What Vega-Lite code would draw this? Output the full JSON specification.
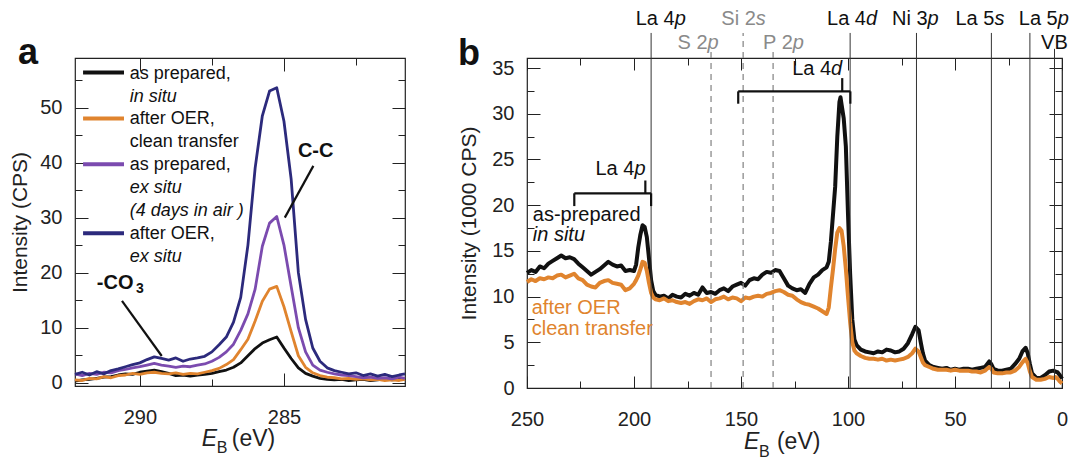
{
  "$schema": "https://vega.github.io/schema/vega-lite/v6.json",
  "padding": {"left": 9, "top": 8, "right": 0, "bottom": 0},
  "spacing": 50,
  "config": {
    "font": "Liberation Sans",
    "view": {"stroke": "#222", "strokeWidth": 1.2},
    "axis": {"domain": false, "grid": false, "labelFontSize": 20, "labelColor": "#222", "tickColor": "#222", "tickWidth": 1, "titleFontSize": 21, "titleFontWeight": "normal", "titleColor": "#222", "labelFlush": false, "labelOverlap": false, "labelFont": "Liberation Sans", "titleFont": "Liberation Sans"},
    "text": {"font": "Liberation Sans", "color": "#111"}
  },
  "datasets": {
    "curvesA": [
      {"E":292.25,"I":0.3,"s":"insitu"},{"E":292.0,"I":0.5,"s":"insitu"},{"E":291.75,"I":0.6,"s":"insitu"},{"E":291.5,"I":0.8,"s":"insitu"},{"E":291.25,"I":1.0,"s":"insitu"},{"E":291.0,"I":1.1,"s":"insitu"},{"E":290.75,"I":1.4,"s":"insitu"},{"E":290.5,"I":1.6,"s":"insitu"},{"E":290.25,"I":1.5,"s":"insitu"},{"E":290.0,"I":1.9,"s":"insitu"},{"E":289.75,"I":2.1,"s":"insitu"},{"E":289.5,"I":2.3,"s":"insitu"},{"E":289.25,"I":2.0,"s":"insitu"},{"E":289.0,"I":1.7,"s":"insitu"},{"E":288.75,"I":1.3,"s":"insitu"},{"E":288.5,"I":1.4,"s":"insitu"},{"E":288.25,"I":1.2,"s":"insitu"},{"E":288.0,"I":1.4,"s":"insitu"},{"E":287.75,"I":1.5,"s":"insitu"},{"E":287.5,"I":1.7,"s":"insitu"},{"E":287.25,"I":2.0,"s":"insitu"},{"E":287.0,"I":2.3,"s":"insitu"},{"E":286.75,"I":2.8,"s":"insitu"},{"E":286.5,"I":3.6,"s":"insitu"},{"E":286.25,"I":4.9,"s":"insitu"},{"E":286.0,"I":6.2,"s":"insitu"},{"E":285.75,"I":7.2,"s":"insitu"},{"E":285.5,"I":7.8,"s":"insitu"},{"E":285.25,"I":8.3,"s":"insitu"},{"E":285.0,"I":6.3,"s":"insitu"},{"E":284.75,"I":4.4,"s":"insitu"},{"E":284.5,"I":2.7,"s":"insitu"},{"E":284.25,"I":1.7,"s":"insitu"},{"E":284.0,"I":1.2,"s":"insitu"},{"E":283.75,"I":0.8,"s":"insitu"},{"E":283.5,"I":0.6,"s":"insitu"},{"E":283.25,"I":0.5,"s":"insitu"},{"E":283.0,"I":0.6,"s":"insitu"},{"E":282.75,"I":0.4,"s":"insitu"},{"E":282.5,"I":0.5,"s":"insitu"},{"E":282.25,"I":0.6,"s":"insitu"},{"E":282.0,"I":0.4,"s":"insitu"},{"E":281.75,"I":0.5,"s":"insitu"},{"E":281.5,"I":0.7,"s":"insitu"},{"E":281.25,"I":0.5,"s":"insitu"},{"E":281.0,"I":0.6,"s":"insitu"},{"E":280.8,"I":0.7,"s":"insitu"},
      {"E":292.25,"I":0.5,"s":"oerclean"},{"E":292.0,"I":0.4,"s":"oerclean"},{"E":291.75,"I":0.8,"s":"oerclean"},{"E":291.5,"I":0.7,"s":"oerclean"},{"E":291.25,"I":1.1,"s":"oerclean"},{"E":291.0,"I":0.9,"s":"oerclean"},{"E":290.75,"I":1.3,"s":"oerclean"},{"E":290.5,"I":1.4,"s":"oerclean"},{"E":290.25,"I":1.7,"s":"oerclean"},{"E":290.0,"I":1.5,"s":"oerclean"},{"E":289.75,"I":1.8,"s":"oerclean"},{"E":289.5,"I":1.9,"s":"oerclean"},{"E":289.25,"I":1.7,"s":"oerclean"},{"E":289.0,"I":1.6,"s":"oerclean"},{"E":288.75,"I":1.8,"s":"oerclean"},{"E":288.5,"I":1.5,"s":"oerclean"},{"E":288.25,"I":1.7,"s":"oerclean"},{"E":288.0,"I":1.6,"s":"oerclean"},{"E":287.75,"I":1.9,"s":"oerclean"},{"E":287.5,"I":2.2,"s":"oerclean"},{"E":287.25,"I":2.6,"s":"oerclean"},{"E":287.0,"I":3.3,"s":"oerclean"},{"E":286.75,"I":4.2,"s":"oerclean"},{"E":286.5,"I":6.0,"s":"oerclean"},{"E":286.25,"I":7.9,"s":"oerclean"},{"E":286.0,"I":11.2,"s":"oerclean"},{"E":285.75,"I":14.8,"s":"oerclean"},{"E":285.5,"I":17.0,"s":"oerclean"},{"E":285.25,"I":17.5,"s":"oerclean"},{"E":285.0,"I":13.8,"s":"oerclean"},{"E":284.75,"I":9.3,"s":"oerclean"},{"E":284.5,"I":4.9,"s":"oerclean"},{"E":284.25,"I":2.8,"s":"oerclean"},{"E":284.0,"I":1.8,"s":"oerclean"},{"E":283.75,"I":1.3,"s":"oerclean"},{"E":283.5,"I":1.0,"s":"oerclean"},{"E":283.25,"I":0.9,"s":"oerclean"},{"E":283.0,"I":0.7,"s":"oerclean"},{"E":282.75,"I":0.8,"s":"oerclean"},{"E":282.5,"I":0.6,"s":"oerclean"},{"E":282.25,"I":0.7,"s":"oerclean"},{"E":282.0,"I":0.5,"s":"oerclean"},{"E":281.75,"I":0.6,"s":"oerclean"},{"E":281.5,"I":0.4,"s":"oerclean"},{"E":281.25,"I":0.5,"s":"oerclean"},{"E":281.0,"I":0.4,"s":"oerclean"},{"E":280.8,"I":0.6,"s":"oerclean"},
      {"E":292.25,"I":1.6,"s":"exsitu"},{"E":292.0,"I":1.3,"s":"exsitu"},{"E":291.75,"I":1.7,"s":"exsitu"},{"E":291.5,"I":1.5,"s":"exsitu"},{"E":291.25,"I":1.9,"s":"exsitu"},{"E":291.0,"I":1.8,"s":"exsitu"},{"E":290.75,"I":2.2,"s":"exsitu"},{"E":290.5,"I":2.4,"s":"exsitu"},{"E":290.25,"I":2.7,"s":"exsitu"},{"E":290.0,"I":2.9,"s":"exsitu"},{"E":289.75,"I":3.2,"s":"exsitu"},{"E":289.5,"I":3.5,"s":"exsitu"},{"E":289.25,"I":3.2,"s":"exsitu"},{"E":289.0,"I":3.0,"s":"exsitu"},{"E":288.75,"I":2.8,"s":"exsitu"},{"E":288.5,"I":3.0,"s":"exsitu"},{"E":288.25,"I":2.9,"s":"exsitu"},{"E":288.0,"I":3.2,"s":"exsitu"},{"E":287.75,"I":3.4,"s":"exsitu"},{"E":287.5,"I":3.9,"s":"exsitu"},{"E":287.25,"I":4.6,"s":"exsitu"},{"E":287.0,"I":5.6,"s":"exsitu"},{"E":286.75,"I":7.0,"s":"exsitu"},{"E":286.5,"I":9.5,"s":"exsitu"},{"E":286.25,"I":12.5,"s":"exsitu"},{"E":286.0,"I":17.0,"s":"exsitu"},{"E":285.75,"I":24.8,"s":"exsitu"},{"E":285.5,"I":29.0,"s":"exsitu"},{"E":285.25,"I":30.2,"s":"exsitu"},{"E":285.0,"I":25.0,"s":"exsitu"},{"E":284.75,"I":17.5,"s":"exsitu"},{"E":284.5,"I":10.0,"s":"exsitu"},{"E":284.25,"I":5.6,"s":"exsitu"},{"E":284.0,"I":3.2,"s":"exsitu"},{"E":283.75,"I":2.3,"s":"exsitu"},{"E":283.5,"I":1.9,"s":"exsitu"},{"E":283.25,"I":1.6,"s":"exsitu"},{"E":283.0,"I":1.4,"s":"exsitu"},{"E":282.75,"I":1.3,"s":"exsitu"},{"E":282.5,"I":1.1,"s":"exsitu"},{"E":282.25,"I":0.9,"s":"exsitu"},{"E":282.0,"I":1.0,"s":"exsitu"},{"E":281.75,"I":0.8,"s":"exsitu"},{"E":281.5,"I":0.9,"s":"exsitu"},{"E":281.25,"I":0.7,"s":"exsitu"},{"E":281.0,"I":1.0,"s":"exsitu"},{"E":280.8,"I":0.8,"s":"exsitu"},
      {"E":292.25,"I":1.5,"s":"oerexsitu"},{"E":292.0,"I":1.9,"s":"oerexsitu"},{"E":291.75,"I":1.4,"s":"oerexsitu"},{"E":291.5,"I":2.0,"s":"oerexsitu"},{"E":291.25,"I":1.6,"s":"oerexsitu"},{"E":291.0,"I":2.2,"s":"oerexsitu"},{"E":290.75,"I":2.5,"s":"oerexsitu"},{"E":290.5,"I":2.9,"s":"oerexsitu"},{"E":290.25,"I":3.3,"s":"oerexsitu"},{"E":290.0,"I":3.6,"s":"oerexsitu"},{"E":289.75,"I":4.2,"s":"oerexsitu"},{"E":289.5,"I":4.7,"s":"oerexsitu"},{"E":289.25,"I":4.4,"s":"oerexsitu"},{"E":289.0,"I":4.1,"s":"oerexsitu"},{"E":288.75,"I":4.5,"s":"oerexsitu"},{"E":288.5,"I":3.9,"s":"oerexsitu"},{"E":288.25,"I":4.3,"s":"oerexsitu"},{"E":288.0,"I":4.5,"s":"oerexsitu"},{"E":287.75,"I":4.8,"s":"oerexsitu"},{"E":287.5,"I":5.6,"s":"oerexsitu"},{"E":287.25,"I":6.9,"s":"oerexsitu"},{"E":287.0,"I":8.3,"s":"oerexsitu"},{"E":286.75,"I":11.0,"s":"oerexsitu"},{"E":286.5,"I":15.5,"s":"oerexsitu"},{"E":286.25,"I":25.0,"s":"oerexsitu"},{"E":286.0,"I":39.0,"s":"oerexsitu"},{"E":285.75,"I":48.5,"s":"oerexsitu"},{"E":285.5,"I":53.0,"s":"oerexsitu"},{"E":285.25,"I":53.6,"s":"oerexsitu"},{"E":285.0,"I":47.5,"s":"oerexsitu"},{"E":284.75,"I":37.0,"s":"oerexsitu"},{"E":284.5,"I":20.0,"s":"oerexsitu"},{"E":284.25,"I":11.5,"s":"oerexsitu"},{"E":284.0,"I":6.3,"s":"oerexsitu"},{"E":283.75,"I":3.9,"s":"oerexsitu"},{"E":283.5,"I":2.7,"s":"oerexsitu"},{"E":283.25,"I":2.2,"s":"oerexsitu"},{"E":283.0,"I":1.9,"s":"oerexsitu"},{"E":282.75,"I":1.6,"s":"oerexsitu"},{"E":282.5,"I":1.8,"s":"oerexsitu"},{"E":282.25,"I":1.3,"s":"oerexsitu"},{"E":282.0,"I":1.6,"s":"oerexsitu"},{"E":281.75,"I":1.2,"s":"oerexsitu"},{"E":281.5,"I":1.5,"s":"oerexsitu"},{"E":281.25,"I":1.1,"s":"oerexsitu"},{"E":281.0,"I":1.4,"s":"oerexsitu"},{"E":280.8,"I":1.6,"s":"oerexsitu"}
    ],
    "legendA": [
      {"s":"insitu","x1":291.97,"x2":290.55,"y":56.36},
      {"s":"oerclean","x1":291.97,"x2":290.55,"y":48.0},
      {"s":"exsitu","x1":291.97,"x2":290.55,"y":39.7},
      {"s":"oerexsitu","x1":291.97,"x2":290.55,"y":27.16}
    ],
    "legendTextA": [
      {"t":"as prepared,","E":290.35,"I":56.07},
      {"t":"after OER,","E":290.35,"I":47.9},
      {"t":"clean transfer","E":290.35,"I":43.76},
      {"t":"as prepared,","E":290.35,"I":39.53},
      {"t":"after OER,","E":290.35,"I":27.1}
    ],
    "legendItalicA": [
      {"t":"in situ","E":290.35,"I":51.95},
      {"t":"ex situ","E":290.35,"I":35.4},
      {"t":"(4 days in air )","E":290.35,"I":31.2},
      {"t":"ex situ","E":290.35,"I":22.9}
    ],
    "leadersA": [
      {"x1":283.98,"y1":39.4,"x2":284.97,"y2":30.0},
      {"x1":290.62,"y1":14.85,"x2":289.24,"y2":4.85}
    ],
    "notesA": [
      {"t":"C-C","E":283.9,"I":42.1,"role":"peak"},
      {"t":"-CO","E":290.22,"I":18.2,"role":"co"},
      {"t":"3","E":290.13,"I":17.0,"role":"sub"},
      {"t":"a","E":293.88,"I":57.95,"role":"panel"},
      {"t":"E","E":287.85,"I":-11.5,"role":"xt_e"},
      {"t":"B","E":287.33,"I":-12.8,"role":"xt_sub"},
      {"t":"(eV)","E":286.81,"I":-11.5,"role":"xt_unit"}
    ],
    "notesB": [
      {"t":"as-prepared","E":247.3,"I":18.3,"role":"black"},
      {"t":"in situ","E":247.3,"I":16.05,"role":"black_it"},
      {"t":"after OER","E":247.8,"I":8.1,"role":"orange"},
      {"t":"clean transfer","E":247.8,"I":5.75,"role":"orange"},
      {"t":"b","E":277.1,"I":35.3,"role":"panel"},
      {"t":"E","E":148.6,"I":-6.7,"role":"xt_e"},
      {"t":"B","E":141.6,"I":-7.5,"role":"xt_sub"},
      {"t":"(eV)","E":133.2,"I":-6.7,"role":"xt_unit"}
    ],
    "curvesB": [
      {"E":250,"I":12.6,"s":"insitu"},{"E":248,"I":12.9,"s":"insitu"},{"E":246,"I":12.7,"s":"insitu"},{"E":244,"I":13.3,"s":"insitu"},{"E":242,"I":13.1,"s":"insitu"},{"E":240,"I":13.6,"s":"insitu"},{"E":238,"I":13.9,"s":"insitu"},{"E":236,"I":14.2,"s":"insitu"},{"E":234,"I":14.5,"s":"insitu"},{"E":232,"I":14.2,"s":"insitu"},{"E":230,"I":14.3,"s":"insitu"},{"E":228,"I":14.1,"s":"insitu"},{"E":226,"I":13.6,"s":"insitu"},{"E":224,"I":13.2,"s":"insitu"},{"E":222,"I":12.8,"s":"insitu"},{"E":220,"I":12.4,"s":"insitu"},{"E":218,"I":12.7,"s":"insitu"},{"E":216,"I":13.0,"s":"insitu"},{"E":214,"I":13.4,"s":"insitu"},{"E":212,"I":13.8,"s":"insitu"},{"E":210,"I":13.5,"s":"insitu"},{"E":208,"I":13.3,"s":"insitu"},{"E":206,"I":13.4,"s":"insitu"},{"E":204,"I":12.8,"s":"insitu"},{"E":202,"I":12.9,"s":"insitu"},{"E":200,"I":12.8,"s":"insitu"},{"E":199,"I":13.5,"s":"insitu"},{"E":198,"I":15.4,"s":"insitu"},{"E":197,"I":16.8,"s":"insitu"},{"E":196,"I":17.8,"s":"insitu"},{"E":195,"I":17.6,"s":"insitu"},{"E":194,"I":16.5,"s":"insitu"},{"E":193,"I":14.2,"s":"insitu"},{"E":192,"I":11.8,"s":"insitu"},{"E":191,"I":10.6,"s":"insitu"},{"E":190,"I":10.2,"s":"insitu"},{"E":188,"I":10.0,"s":"insitu"},{"E":186,"I":10.1,"s":"insitu"},{"E":184,"I":9.8,"s":"insitu"},{"E":182,"I":10.2,"s":"insitu"},{"E":180,"I":10.0,"s":"insitu"},{"E":178,"I":9.9,"s":"insitu"},{"E":176,"I":10.3,"s":"insitu"},{"E":174,"I":10.1,"s":"insitu"},{"E":172,"I":10.4,"s":"insitu"},{"E":170,"I":10.2,"s":"insitu"},{"E":168,"I":11.0,"s":"insitu"},{"E":166,"I":10.4,"s":"insitu"},{"E":164,"I":10.5,"s":"insitu"},{"E":162,"I":10.3,"s":"insitu"},{"E":160,"I":10.7,"s":"insitu"},{"E":158,"I":10.9,"s":"insitu"},{"E":156,"I":10.6,"s":"insitu"},{"E":154,"I":11.1,"s":"insitu"},{"E":152,"I":11.3,"s":"insitu"},{"E":150,"I":11.5,"s":"insitu"},{"E":148,"I":11.2,"s":"insitu"},{"E":146,"I":11.8,"s":"insitu"},{"E":144,"I":12.0,"s":"insitu"},{"E":142,"I":11.9,"s":"insitu"},{"E":140,"I":12.4,"s":"insitu"},{"E":138,"I":12.7,"s":"insitu"},{"E":136,"I":12.6,"s":"insitu"},{"E":134,"I":12.9,"s":"insitu"},{"E":132,"I":12.8,"s":"insitu"},{"E":130,"I":12.0,"s":"insitu"},{"E":128,"I":11.2,"s":"insitu"},{"E":126,"I":10.9,"s":"insitu"},{"E":124,"I":10.7,"s":"insitu"},{"E":122,"I":10.8,"s":"insitu"},{"E":120,"I":10.4,"s":"insitu"},{"E":118,"I":11.4,"s":"insitu"},{"E":116,"I":12.1,"s":"insitu"},{"E":114,"I":12.4,"s":"insitu"},{"E":112,"I":12.9,"s":"insitu"},{"E":110,"I":13.2,"s":"insitu"},{"E":109,"I":13.8,"s":"insitu"},{"E":108,"I":16.0,"s":"insitu"},{"E":107,"I":19.0,"s":"insitu"},{"E":106,"I":22.0,"s":"insitu"},{"E":105,"I":27.5,"s":"insitu"},{"E":104,"I":31.3,"s":"insitu"},{"E":103.5,"I":31.8,"s":"insitu"},{"E":103,"I":31.0,"s":"insitu"},{"E":102,"I":29.5,"s":"insitu"},{"E":101,"I":26.4,"s":"insitu"},{"E":100,"I":19.0,"s":"insitu"},{"E":99,"I":12.5,"s":"insitu"},{"E":98,"I":7.5,"s":"insitu"},{"E":97,"I":5.3,"s":"insitu"},{"E":96,"I":4.7,"s":"insitu"},{"E":94,"I":4.2,"s":"insitu"},{"E":92,"I":4.0,"s":"insitu"},{"E":90,"I":3.9,"s":"insitu"},{"E":88,"I":3.8,"s":"insitu"},{"E":86,"I":4.0,"s":"insitu"},{"E":84,"I":3.9,"s":"insitu"},{"E":82,"I":4.2,"s":"insitu"},{"E":80,"I":4.1,"s":"insitu"},{"E":78,"I":3.9,"s":"insitu"},{"E":76,"I":4.0,"s":"insitu"},{"E":74,"I":4.3,"s":"insitu"},{"E":72,"I":4.9,"s":"insitu"},{"E":70,"I":5.9,"s":"insitu"},{"E":68.5,"I":6.7,"s":"insitu"},{"E":67,"I":6.3,"s":"insitu"},{"E":66,"I":5.0,"s":"insitu"},{"E":65,"I":3.8,"s":"insitu"},{"E":64,"I":3.0,"s":"insitu"},{"E":62,"I":2.5,"s":"insitu"},{"E":60,"I":2.3,"s":"insitu"},{"E":58,"I":2.2,"s":"insitu"},{"E":56,"I":2.1,"s":"insitu"},{"E":54,"I":2.2,"s":"insitu"},{"E":52,"I":2.0,"s":"insitu"},{"E":50,"I":2.1,"s":"insitu"},{"E":48,"I":2.0,"s":"insitu"},{"E":46,"I":2.1,"s":"insitu"},{"E":44,"I":2.1,"s":"insitu"},{"E":42,"I":2.0,"s":"insitu"},{"E":40,"I":2.1,"s":"insitu"},{"E":38,"I":2.2,"s":"insitu"},{"E":36,"I":2.3,"s":"insitu"},{"E":35,"I":2.6,"s":"insitu"},{"E":34,"I":2.9,"s":"insitu"},{"E":33,"I":2.6,"s":"insitu"},{"E":32,"I":2.1,"s":"insitu"},{"E":30,"I":1.9,"s":"insitu"},{"E":28,"I":1.9,"s":"insitu"},{"E":26,"I":2.0,"s":"insitu"},{"E":24,"I":2.1,"s":"insitu"},{"E":22,"I":2.6,"s":"insitu"},{"E":20,"I":3.2,"s":"insitu"},{"E":18.5,"I":4.0,"s":"insitu"},{"E":17,"I":4.4,"s":"insitu"},{"E":16,"I":3.8,"s":"insitu"},{"E":15,"I":2.6,"s":"insitu"},{"E":14,"I":1.6,"s":"insitu"},{"E":12,"I":1.1,"s":"insitu"},{"E":10,"I":1.1,"s":"insitu"},{"E":8,"I":1.4,"s":"insitu"},{"E":6,"I":1.8,"s":"insitu"},{"E":4,"I":1.9,"s":"insitu"},{"E":3,"I":1.8,"s":"insitu"},{"E":2,"I":1.7,"s":"insitu"},{"E":1,"I":1.4,"s":"insitu"},{"E":0,"I":1.0,"s":"insitu"},
      {"E":250,"I":11.6,"s":"oerclean"},{"E":248,"I":11.9,"s":"oerclean"},{"E":246,"I":11.7,"s":"oerclean"},{"E":244,"I":12.0,"s":"oerclean"},{"E":242,"I":11.9,"s":"oerclean"},{"E":240,"I":12.1,"s":"oerclean"},{"E":238,"I":12.0,"s":"oerclean"},{"E":236,"I":12.3,"s":"oerclean"},{"E":234,"I":12.4,"s":"oerclean"},{"E":232,"I":12.1,"s":"oerclean"},{"E":230,"I":12.3,"s":"oerclean"},{"E":228,"I":12.5,"s":"oerclean"},{"E":226,"I":12.0,"s":"oerclean"},{"E":224,"I":11.8,"s":"oerclean"},{"E":222,"I":11.3,"s":"oerclean"},{"E":220,"I":11.1,"s":"oerclean"},{"E":218,"I":11.0,"s":"oerclean"},{"E":216,"I":11.5,"s":"oerclean"},{"E":214,"I":11.7,"s":"oerclean"},{"E":212,"I":11.8,"s":"oerclean"},{"E":210,"I":11.5,"s":"oerclean"},{"E":208,"I":11.4,"s":"oerclean"},{"E":206,"I":11.3,"s":"oerclean"},{"E":204,"I":10.7,"s":"oerclean"},{"E":202,"I":10.9,"s":"oerclean"},{"E":200,"I":11.4,"s":"oerclean"},{"E":199,"I":11.8,"s":"oerclean"},{"E":198,"I":12.3,"s":"oerclean"},{"E":197,"I":13.0,"s":"oerclean"},{"E":196,"I":13.8,"s":"oerclean"},{"E":195,"I":13.7,"s":"oerclean"},{"E":194,"I":12.8,"s":"oerclean"},{"E":193,"I":11.5,"s":"oerclean"},{"E":192,"I":10.4,"s":"oerclean"},{"E":191,"I":9.9,"s":"oerclean"},{"E":190,"I":9.7,"s":"oerclean"},{"E":188,"I":9.6,"s":"oerclean"},{"E":186,"I":9.8,"s":"oerclean"},{"E":184,"I":9.5,"s":"oerclean"},{"E":182,"I":9.6,"s":"oerclean"},{"E":180,"I":9.4,"s":"oerclean"},{"E":178,"I":9.3,"s":"oerclean"},{"E":176,"I":9.4,"s":"oerclean"},{"E":174,"I":9.2,"s":"oerclean"},{"E":172,"I":9.5,"s":"oerclean"},{"E":170,"I":9.7,"s":"oerclean"},{"E":168,"I":9.6,"s":"oerclean"},{"E":166,"I":9.8,"s":"oerclean"},{"E":164,"I":9.4,"s":"oerclean"},{"E":162,"I":9.7,"s":"oerclean"},{"E":160,"I":9.8,"s":"oerclean"},{"E":158,"I":10.0,"s":"oerclean"},{"E":156,"I":9.7,"s":"oerclean"},{"E":154,"I":9.9,"s":"oerclean"},{"E":152,"I":9.8,"s":"oerclean"},{"E":150,"I":9.5,"s":"oerclean"},{"E":148,"I":9.9,"s":"oerclean"},{"E":146,"I":9.8,"s":"oerclean"},{"E":144,"I":10.0,"s":"oerclean"},{"E":142,"I":10.1,"s":"oerclean"},{"E":140,"I":10.0,"s":"oerclean"},{"E":138,"I":10.3,"s":"oerclean"},{"E":136,"I":10.4,"s":"oerclean"},{"E":134,"I":10.6,"s":"oerclean"},{"E":132,"I":10.7,"s":"oerclean"},{"E":130,"I":10.5,"s":"oerclean"},{"E":128,"I":10.2,"s":"oerclean"},{"E":126,"I":10.1,"s":"oerclean"},{"E":124,"I":9.7,"s":"oerclean"},{"E":122,"I":9.4,"s":"oerclean"},{"E":120,"I":9.2,"s":"oerclean"},{"E":118,"I":9.1,"s":"oerclean"},{"E":116,"I":8.9,"s":"oerclean"},{"E":114,"I":8.7,"s":"oerclean"},{"E":112,"I":8.4,"s":"oerclean"},{"E":110,"I":8.1,"s":"oerclean"},{"E":109,"I":8.8,"s":"oerclean"},{"E":108,"I":11.0,"s":"oerclean"},{"E":107,"I":13.0,"s":"oerclean"},{"E":106,"I":15.2,"s":"oerclean"},{"E":105,"I":17.0,"s":"oerclean"},{"E":104,"I":17.5,"s":"oerclean"},{"E":103,"I":17.2,"s":"oerclean"},{"E":102,"I":15.5,"s":"oerclean"},{"E":101,"I":13.0,"s":"oerclean"},{"E":100,"I":10.0,"s":"oerclean"},{"E":99,"I":7.2,"s":"oerclean"},{"E":98,"I":5.0,"s":"oerclean"},{"E":97,"I":4.1,"s":"oerclean"},{"E":96,"I":3.8,"s":"oerclean"},{"E":94,"I":3.5,"s":"oerclean"},{"E":92,"I":3.3,"s":"oerclean"},{"E":90,"I":3.2,"s":"oerclean"},{"E":88,"I":3.2,"s":"oerclean"},{"E":86,"I":3.1,"s":"oerclean"},{"E":84,"I":3.2,"s":"oerclean"},{"E":82,"I":3.0,"s":"oerclean"},{"E":80,"I":3.1,"s":"oerclean"},{"E":78,"I":3.0,"s":"oerclean"},{"E":76,"I":3.1,"s":"oerclean"},{"E":74,"I":3.2,"s":"oerclean"},{"E":72,"I":3.4,"s":"oerclean"},{"E":70,"I":3.8,"s":"oerclean"},{"E":68.5,"I":4.3,"s":"oerclean"},{"E":67,"I":4.0,"s":"oerclean"},{"E":66,"I":3.4,"s":"oerclean"},{"E":65,"I":2.8,"s":"oerclean"},{"E":64,"I":2.5,"s":"oerclean"},{"E":62,"I":2.3,"s":"oerclean"},{"E":60,"I":2.1,"s":"oerclean"},{"E":58,"I":2.0,"s":"oerclean"},{"E":56,"I":2.0,"s":"oerclean"},{"E":54,"I":2.0,"s":"oerclean"},{"E":52,"I":1.9,"s":"oerclean"},{"E":50,"I":2.0,"s":"oerclean"},{"E":48,"I":1.9,"s":"oerclean"},{"E":46,"I":1.9,"s":"oerclean"},{"E":44,"I":1.9,"s":"oerclean"},{"E":42,"I":1.8,"s":"oerclean"},{"E":40,"I":1.8,"s":"oerclean"},{"E":38,"I":1.7,"s":"oerclean"},{"E":36,"I":1.9,"s":"oerclean"},{"E":35,"I":2.1,"s":"oerclean"},{"E":34,"I":2.3,"s":"oerclean"},{"E":33,"I":2.1,"s":"oerclean"},{"E":32,"I":1.7,"s":"oerclean"},{"E":30,"I":1.6,"s":"oerclean"},{"E":28,"I":1.6,"s":"oerclean"},{"E":26,"I":1.7,"s":"oerclean"},{"E":24,"I":1.7,"s":"oerclean"},{"E":22,"I":1.9,"s":"oerclean"},{"E":20,"I":2.3,"s":"oerclean"},{"E":18.5,"I":2.8,"s":"oerclean"},{"E":17,"I":3.2,"s":"oerclean"},{"E":16,"I":2.7,"s":"oerclean"},{"E":15,"I":1.8,"s":"oerclean"},{"E":14,"I":1.2,"s":"oerclean"},{"E":12,"I":0.9,"s":"oerclean"},{"E":10,"I":0.9,"s":"oerclean"},{"E":8,"I":1.0,"s":"oerclean"},{"E":6,"I":1.2,"s":"oerclean"},{"E":4,"I":1.1,"s":"oerclean"},{"E":3,"I":1.2,"s":"oerclean"},{"E":2,"I":1.0,"s":"oerclean"},{"E":1,"I":0.7,"s":"oerclean"},{"E":0,"I":0.5,"s":"oerclean"}
    ],
    "refLines": [
      {"name":"La 4p","E":192,"kind":"core"},
      {"name":"La 4d","E":99,"kind":"core"},
      {"name":"Ni 3p","E":68,"kind":"core"},
      {"name":"La 5s","E":33,"kind":"core"},
      {"name":"La 5p","E":15,"kind":"core"},
      {"name":"VB","E":3.5,"kind":"vb"},
      {"name":"Si 2s","E":149,"kind":"imp_hi"},
      {"name":"S 2p","E":164,"kind":"imp_lo"},
      {"name":"P 2p","E":135,"kind":"imp_lo"}
    ],
    "topLabels": [
      {"pre":"La 4","it":"p","E":181.0,"tier":"upper","kind":"host"},
      {"pre":"La 4","it":"d","E":91.6,"tier":"upper","kind":"host"},
      {"pre":"Ni 3","it":"p","E":62.8,"tier":"upper","kind":"host"},
      {"pre":"La 5","it":"s","E":31.6,"tier":"upper","kind":"host"},
      {"pre":"La 5","it":"p","E":2.0,"tier":"upper","kind":"host"},
      {"pre":"Si 2","it":"s","E":143.1,"tier":"upper","kind":"impurity"},
      {"pre":"S 2","it":"p","E":165.6,"tier":"lower","kind":"impurity"},
      {"pre":"P 2","it":"p","E":125.8,"tier":"lower","kind":"impurity"},
      {"pre":"VB","it":"","E":-2.7,"tier":"lower","kind":"host"}
    ],
    "brackets": [
      {"x1":227.9,"x2":192.0,"y1":21.3,"y2":21.3},
      {"x1":227.9,"x2":227.9,"y1":21.3,"y2":19.9},
      {"x1":192.0,"x2":192.0,"y1":21.3,"y2":19.9},
      {"x1":194.7,"x2":194.7,"y1":21.3,"y2":22.7},
      {"x1":151.3,"x2":98.9,"y1":32.45,"y2":32.45},
      {"x1":151.3,"x2":151.3,"y1":32.45,"y2":31.1},
      {"x1":98.9,"x2":98.9,"y1":32.45,"y2":31.1},
      {"x1":102.7,"x2":102.7,"y1":32.45,"y2":33.9}
    ],
    "bracketLabels": [
      {"pre":"La 4","it":"p","E":199.8,"I":23.25},
      {"pre":"La 4","it":"d","E":107.9,"I":34.2}
    ]
  },
  "hconcat": [
    {
      "width": 330,
      "height": 328,
      "layer": [
        {
          "data": {"name": "curvesA"},
          "mark": {"type": "line", "strokeWidth": 2.8, "strokeJoin": "round"},
          "encoding": {
            "x": {"field": "E", "type": "quantitative", "scale": {"domain": [280.8, 292.25], "reverse": true, "nice": false, "zero": false},
              "axis": {"title": null, "values": [290, 287.5, 285, 282.5], "labelExpr": "datum.value % 5 === 0 ? datum.label : ''", "tickSize": {"condition": {"test": "datum.value % 5 === 0", "value": -13}, "value": -7}, "labelPadding": 34}},
            "y": {"field": "I", "type": "quantitative", "scale": {"domain": [-0.6, 59], "nice": false, "zero": false},
              "axis": {"title": "Intensity (CPS)", "values": [0, 5, 10, 15, 20, 25, 30, 35, 40, 45, 50, 55], "labelExpr": "datum.value % 10 === 0 ? datum.label : ''", "tickSize": {"condition": {"test": "datum.value % 10 === 0", "value": -13}, "value": -7}, "labelPadding": 26, "titlePadding": 9}},
            "color": {"field": "s", "type": "nominal", "scale": {"domain": ["insitu", "oerclean", "exsitu", "oerexsitu"], "range": ["#111111", "#E0842E", "#7B4BAF", "#2C2A7C"]}, "legend": null}
          }
        },
        {
          "data": {"name": "legendA"},
          "mark": {"type": "rule", "strokeWidth": 4},
          "encoding": {
            "x": {"field": "x1", "type": "quantitative", "axis": null},
            "x2": {"field": "x2"},
            "y": {"field": "y", "type": "quantitative", "axis": null},
            "color": {"field": "s", "type": "nominal", "legend": null}
          }
        },
        {
          "data": {"name": "legendTextA"},
          "mark": {"type": "text", "align": "left", "baseline": "middle", "fontSize": 18, "color": "#111"},
          "encoding": {"x": {"field": "E", "type": "quantitative", "axis": null}, "y": {"field": "I", "type": "quantitative", "axis": null}, "text": {"field": "t"}}
        },
        {
          "data": {"name": "legendItalicA"},
          "mark": {"type": "text", "align": "left", "baseline": "middle", "fontSize": 18, "fontStyle": "italic", "color": "#111"},
          "encoding": {"x": {"field": "E", "type": "quantitative", "axis": null}, "y": {"field": "I", "type": "quantitative", "axis": null}, "text": {"field": "t"}}
        },
        {
          "data": {"name": "leadersA"},
          "mark": {"type": "rule", "strokeWidth": 2.2, "color": "#111"},
          "encoding": {"x": {"field": "x1", "type": "quantitative", "axis": null}, "x2": {"field": "x2"}, "y": {"field": "y1", "type": "quantitative", "axis": null}, "y2": {"field": "y2"}}
        },
        {
          "data": {"name": "notesA"},
          "transform": [{"filter": "datum.role === 'peak'"}],
          "mark": {"type": "text", "fontWeight": "bold", "fontSize": 20, "align": "center", "baseline": "middle", "color": "#111"},
          "encoding": {"x": {"field": "E", "type": "quantitative", "axis": null}, "y": {"field": "I", "type": "quantitative", "axis": null}, "text": {"field": "t"}}
        },
        {
          "data": {"name": "notesA"},
          "transform": [{"filter": "datum.role === 'co'"}],
          "mark": {"type": "text", "fontWeight": "bold", "fontSize": 20, "align": "right", "baseline": "middle", "color": "#111"},
          "encoding": {"x": {"field": "E", "type": "quantitative", "axis": null}, "y": {"field": "I", "type": "quantitative", "axis": null}, "text": {"field": "t"}}
        },
        {
          "data": {"name": "notesA"},
          "transform": [{"filter": "datum.role === 'sub'"}],
          "mark": {"type": "text", "fontWeight": "bold", "fontSize": 14, "align": "left", "baseline": "middle", "color": "#111"},
          "encoding": {"x": {"field": "E", "type": "quantitative", "axis": null}, "y": {"field": "I", "type": "quantitative", "axis": null}, "text": {"field": "t"}}
        },
        {
          "data": {"name": "notesA"},
          "transform": [{"filter": "datum.role === 'panel'"}],
          "mark": {"type": "text", "fontWeight": "bold", "fontSize": 36, "align": "center", "baseline": "alphabetic", "color": "#111"},
          "encoding": {"x": {"field": "E", "type": "quantitative", "axis": null}, "y": {"field": "I", "type": "quantitative", "axis": null}, "text": {"field": "t"}}
        },
        {
          "data": {"name": "notesA"},
          "transform": [{"filter": "datum.role === 'xt_e'"}],
          "mark": {"type": "text", "fontStyle": "italic", "fontSize": 23, "align": "left", "baseline": "alphabetic", "color": "#222"},
          "encoding": {"x": {"field": "E", "type": "quantitative", "axis": null}, "y": {"field": "I", "type": "quantitative", "axis": null}, "text": {"field": "t"}}
        },
        {
          "data": {"name": "notesA"},
          "transform": [{"filter": "datum.role === 'xt_sub'"}],
          "mark": {"type": "text", "fontSize": 16, "align": "left", "baseline": "alphabetic", "color": "#222"},
          "encoding": {"x": {"field": "E", "type": "quantitative", "axis": null}, "y": {"field": "I", "type": "quantitative", "axis": null}, "text": {"field": "t"}}
        },
        {
          "data": {"name": "notesA"},
          "transform": [{"filter": "datum.role === 'xt_unit'"}],
          "mark": {"type": "text", "fontSize": 23, "align": "left", "baseline": "alphabetic", "color": "#222"},
          "encoding": {"x": {"field": "E", "type": "quantitative", "axis": null}, "y": {"field": "I", "type": "quantitative", "axis": null}, "text": {"field": "t"}}
        },
        {
          "data": {"name": "curvesA"},
          "mark": {"type": "line", "opacity": 0},
          "encoding": {
            "x": {"field": "E", "type": "quantitative",
              "axis": {"orient": "top", "title": null, "labels": false, "values": [290, 287.5, 285, 282.5], "tickSize": {"condition": {"test": "datum.value % 5 === 0", "value": -13}, "value": -7}}},
            "y": {"field": "I", "type": "quantitative",
              "axis": {"orient": "right", "title": null, "labels": false, "values": [0, 5, 10, 15, 20, 25, 30, 35, 40, 45, 50, 55], "tickSize": {"condition": {"test": "datum.value % 10 === 0", "value": -13}, "value": -7}}}
          }
        }
      ],
      "resolve": {"axis": {"x": "independent", "y": "independent"}}
    },
    {
      "width": 535,
      "height": 330,
      "layer": [
        {
          "data": {"name": "curvesB"},
          "mark": {"type": "line", "strokeWidth": 4, "strokeJoin": "round"},
          "encoding": {
            "x": {"field": "E", "type": "quantitative", "scale": {"domain": [0, 250], "reverse": true, "nice": false, "zero": false},
              "axis": {"title": null, "values": [0, 25, 50, 75, 100, 125, 150, 175, 200, 225, 250], "labelExpr": "datum.value % 50 === 0 ? datum.label : ''", "tickSize": {"condition": {"test": "datum.value % 50 === 0", "value": -12}, "value": -7}, "labelPadding": 33}},
            "y": {"field": "I", "type": "quantitative", "scale": {"domain": [0, 36.1], "nice": false, "zero": false},
              "axis": {"title": "Intensity (1000 CPS)", "values": [0, 2.5, 5, 7.5, 10, 12.5, 15, 17.5, 20, 22.5, 25, 27.5, 30, 32.5, 35], "labelExpr": "datum.value % 5 === 0 ? datum.label : ''", "tickSize": {"condition": {"test": "datum.value % 5 === 0", "value": -13}, "value": -7}, "labelPadding": 26, "titlePadding": 12}},
            "color": {"field": "s", "type": "nominal", "scale": {"domain": ["insitu", "oerclean"], "range": ["#111111", "#E0842E"]}, "legend": null}
          }
        },
        {
          "data": {"name": "refLines"},
          "transform": [{"filter": "datum.kind === 'core'"}],
          "mark": {"type": "rule", "strokeWidth": 1, "color": "#333"},
          "encoding": {"x": {"field": "E", "type": "quantitative", "axis": null}, "y": {"datum": 0, "type": "quantitative", "axis": null}, "y2": {"datum": 38.84}}
        },
        {
          "data": {"name": "refLines"},
          "transform": [{"filter": "datum.kind === 'vb'"}],
          "mark": {"type": "rule", "strokeWidth": 1, "color": "#333"},
          "encoding": {"x": {"field": "E", "type": "quantitative", "axis": null}, "y": {"datum": 0, "type": "quantitative", "axis": null}, "y2": {"datum": 37.1}}
        },
        {
          "data": {"name": "refLines"},
          "transform": [{"filter": "datum.kind === 'imp_hi'"}],
          "mark": {"type": "rule", "strokeWidth": 1.3, "color": "#8a8a8a", "strokeDash": [6, 5]},
          "encoding": {"x": {"field": "E", "type": "quantitative", "axis": null}, "y": {"datum": 0, "type": "quantitative", "axis": null}, "y2": {"datum": 38.84}}
        },
        {
          "data": {"name": "refLines"},
          "transform": [{"filter": "datum.kind === 'imp_lo'"}],
          "mark": {"type": "rule", "strokeWidth": 1.3, "color": "#8a8a8a", "strokeDash": [6, 5]},
          "encoding": {"x": {"field": "E", "type": "quantitative", "axis": null}, "y": {"datum": 0, "type": "quantitative", "axis": null}, "y2": {"datum": 37.1}}
        },
        {
          "data": {"name": "brackets"},
          "mark": {"type": "rule", "strokeWidth": 2.2, "color": "#111"},
          "encoding": {"x": {"field": "x1", "type": "quantitative", "axis": null}, "x2": {"field": "x2"}, "y": {"field": "y1", "type": "quantitative", "axis": null}, "y2": {"field": "y2"}}
        },
        {
          "data": {"name": "bracketLabels"},
          "mark": {"type": "text", "align": "right", "baseline": "alphabetic", "fontSize": 20, "color": "#111"},
          "encoding": {"x": {"field": "E", "type": "quantitative", "axis": null}, "y": {"field": "I", "type": "quantitative", "axis": null}, "text": {"field": "pre"}}
        },
        {
          "data": {"name": "bracketLabels"},
          "mark": {"type": "text", "align": "left", "baseline": "alphabetic", "fontSize": 20, "fontStyle": "italic", "color": "#111"},
          "encoding": {"x": {"field": "E", "type": "quantitative", "axis": null}, "y": {"field": "I", "type": "quantitative", "axis": null}, "text": {"field": "it"}}
        },
        {
          "data": {"name": "topLabels"},
          "transform": [{"filter": "datum.tier === 'upper' && datum.kind === 'host'"}],
          "mark": {"type": "text", "align": "right", "baseline": "alphabetic", "fontSize": 20, "color": "#111"},
          "encoding": {"x": {"field": "E", "type": "quantitative", "axis": null}, "y": {"datum": 39.7, "type": "quantitative", "axis": null}, "text": {"field": "pre"}}
        },
        {
          "data": {"name": "topLabels"},
          "transform": [{"filter": "datum.tier === 'upper' && datum.kind === 'host'"}],
          "mark": {"type": "text", "align": "left", "baseline": "alphabetic", "fontSize": 20, "fontStyle": "italic", "color": "#111"},
          "encoding": {"x": {"field": "E", "type": "quantitative", "axis": null}, "y": {"datum": 39.7, "type": "quantitative", "axis": null}, "text": {"field": "it"}}
        },
        {
          "data": {"name": "topLabels"},
          "transform": [{"filter": "datum.tier === 'upper' && datum.kind === 'impurity'"}],
          "mark": {"type": "text", "align": "right", "baseline": "alphabetic", "fontSize": 20, "color": "#8a8a8a"},
          "encoding": {"x": {"field": "E", "type": "quantitative", "axis": null}, "y": {"datum": 39.7, "type": "quantitative", "axis": null}, "text": {"field": "pre"}}
        },
        {
          "data": {"name": "topLabels"},
          "transform": [{"filter": "datum.tier === 'upper' && datum.kind === 'impurity'"}],
          "mark": {"type": "text", "align": "left", "baseline": "alphabetic", "fontSize": 20, "fontStyle": "italic", "color": "#8a8a8a"},
          "encoding": {"x": {"field": "E", "type": "quantitative", "axis": null}, "y": {"datum": 39.7, "type": "quantitative", "axis": null}, "text": {"field": "it"}}
        },
        {
          "data": {"name": "topLabels"},
          "transform": [{"filter": "datum.tier === 'lower' && datum.kind === 'impurity'"}],
          "mark": {"type": "text", "align": "right", "baseline": "alphabetic", "fontSize": 20, "color": "#8a8a8a"},
          "encoding": {"x": {"field": "E", "type": "quantitative", "axis": null}, "y": {"datum": 37.1, "type": "quantitative", "axis": null}, "text": {"field": "pre"}}
        },
        {
          "data": {"name": "topLabels"},
          "transform": [{"filter": "datum.tier === 'lower' && datum.kind === 'impurity'"}],
          "mark": {"type": "text", "align": "left", "baseline": "alphabetic", "fontSize": 20, "fontStyle": "italic", "color": "#8a8a8a"},
          "encoding": {"x": {"field": "E", "type": "quantitative", "axis": null}, "y": {"datum": 37.1, "type": "quantitative", "axis": null}, "text": {"field": "it"}}
        },
        {
          "data": {"name": "topLabels"},
          "transform": [{"filter": "datum.tier === 'lower' && datum.kind === 'host'"}],
          "mark": {"type": "text", "align": "right", "baseline": "alphabetic", "fontSize": 20, "color": "#111"},
          "encoding": {"x": {"field": "E", "type": "quantitative", "axis": null}, "y": {"datum": 37.1, "type": "quantitative", "axis": null}, "text": {"field": "pre"}}
        },
        {
          "data": {"name": "notesB"},
          "transform": [{"filter": "datum.role === 'black'"}],
          "mark": {"type": "text", "align": "left", "baseline": "alphabetic", "fontSize": 20, "color": "#111"},
          "encoding": {"x": {"field": "E", "type": "quantitative", "axis": null}, "y": {"field": "I", "type": "quantitative", "axis": null}, "text": {"field": "t"}}
        },
        {
          "data": {"name": "notesB"},
          "transform": [{"filter": "datum.role === 'black_it'"}],
          "mark": {"type": "text", "align": "left", "baseline": "alphabetic", "fontSize": 20, "fontStyle": "italic", "color": "#111"},
          "encoding": {"x": {"field": "E", "type": "quantitative", "axis": null}, "y": {"field": "I", "type": "quantitative", "axis": null}, "text": {"field": "t"}}
        },
        {
          "data": {"name": "notesB"},
          "transform": [{"filter": "datum.role === 'orange'"}],
          "mark": {"type": "text", "align": "left", "baseline": "alphabetic", "fontSize": 20, "color": "#E0842E"},
          "encoding": {"x": {"field": "E", "type": "quantitative", "axis": null}, "y": {"field": "I", "type": "quantitative", "axis": null}, "text": {"field": "t"}}
        },
        {
          "data": {"name": "notesB"},
          "transform": [{"filter": "datum.role === 'panel'"}],
          "mark": {"type": "text", "fontWeight": "bold", "fontSize": 36, "align": "center", "baseline": "alphabetic", "color": "#111"},
          "encoding": {"x": {"field": "E", "type": "quantitative", "axis": null}, "y": {"field": "I", "type": "quantitative", "axis": null}, "text": {"field": "t"}}
        },
        {
          "data": {"name": "notesB"},
          "transform": [{"filter": "datum.role === 'xt_e'"}],
          "mark": {"type": "text", "fontStyle": "italic", "fontSize": 23, "align": "left", "baseline": "alphabetic", "color": "#222"},
          "encoding": {"x": {"field": "E", "type": "quantitative", "axis": null}, "y": {"field": "I", "type": "quantitative", "axis": null}, "text": {"field": "t"}}
        },
        {
          "data": {"name": "notesB"},
          "transform": [{"filter": "datum.role === 'xt_sub'"}],
          "mark": {"type": "text", "fontSize": 16, "align": "left", "baseline": "alphabetic", "color": "#222"},
          "encoding": {"x": {"field": "E", "type": "quantitative", "axis": null}, "y": {"field": "I", "type": "quantitative", "axis": null}, "text": {"field": "t"}}
        },
        {
          "data": {"name": "notesB"},
          "transform": [{"filter": "datum.role === 'xt_unit'"}],
          "mark": {"type": "text", "fontSize": 23, "align": "left", "baseline": "alphabetic", "color": "#222"},
          "encoding": {"x": {"field": "E", "type": "quantitative", "axis": null}, "y": {"field": "I", "type": "quantitative", "axis": null}, "text": {"field": "t"}}
        },
        {
          "data": {"name": "curvesB"},
          "mark": {"type": "line", "opacity": 0},
          "encoding": {
            "x": {"field": "E", "type": "quantitative",
              "axis": {"orient": "top", "title": null, "labels": false, "values": [0, 25, 50, 75, 100, 125, 150, 175, 200, 225, 250], "tickSize": {"condition": {"test": "datum.value % 50 === 0", "value": -12}, "value": -7}}},
            "y": {"field": "I", "type": "quantitative",
              "axis": {"orient": "right", "title": null, "labels": false, "values": [0, 2.5, 5, 7.5, 10, 12.5, 15, 17.5, 20, 22.5, 25, 27.5, 30, 32.5, 35], "tickSize": {"condition": {"test": "datum.value % 5 === 0", "value": -13}, "value": -7}}}
          }
        }
      ],
      "resolve": {"axis": {"x": "independent", "y": "independent"}}
    }
  ]
}
